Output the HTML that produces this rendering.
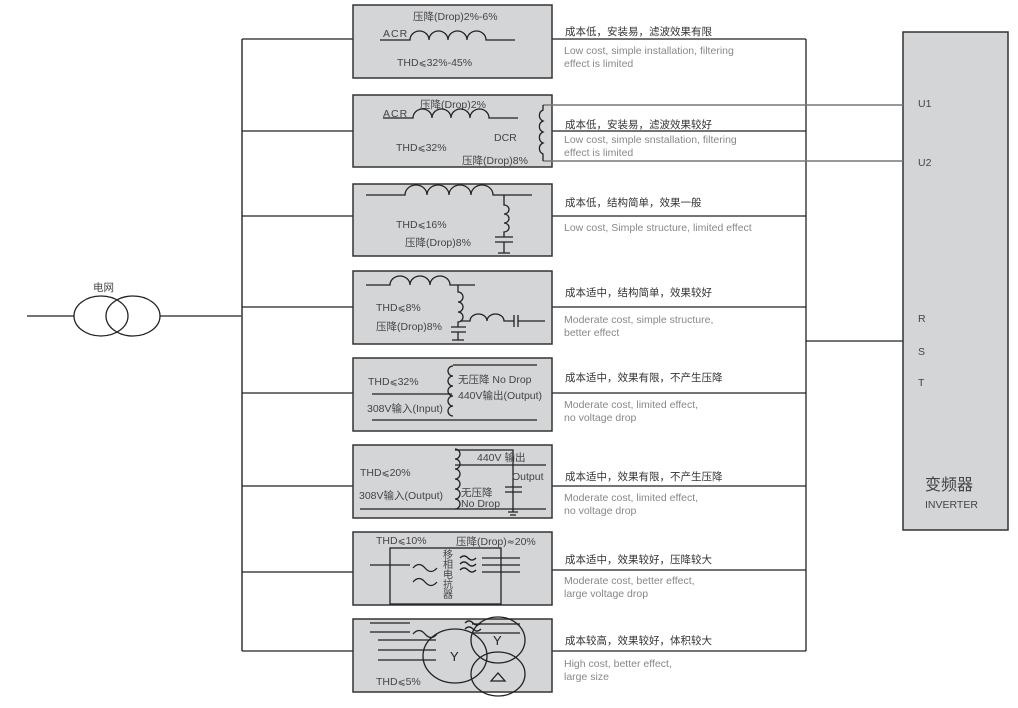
<!DOCTYPE html>
<html><head><meta charset="utf-8"><style>
html,body{margin:0;padding:0;background:#fff;}
svg{display:block;font-family:"Liberation Sans","Noto Sans CJK SC",sans-serif;}
.b{fill:#d4d5d7;stroke:#333;stroke-width:1.5}
.l{stroke:#222;stroke-width:1.3;fill:none}
.g{stroke:#777;stroke-width:1.5;fill:none}
.t{font-size:10.5px;fill:#444}
.c{font-size:10.5px;fill:#333}
.e{font-size:10.5px;fill:#888}
.d{font-family:"DejaVu Sans",sans-serif;font-size:9.5px}
</style></head><body>
<svg width="1018" height="708" viewBox="0 0 1018 708" xmlns="http://www.w3.org/2000/svg">
<line class="l" x1="27" y1="316" x2="74" y2="316"/>
<ellipse class="l" cx="101" cy="316" rx="27" ry="20"/>
<ellipse class="l" cx="133" cy="316" rx="27" ry="20"/>
<line class="l" x1="160" y1="316" x2="242" y2="316"/>
<text class="t" x="93" y="291">电网</text>
<line x1="242" y1="39" x2="242" y2="651" stroke="#555" stroke-width="1.8"/>
<g class="l">
<line x1="242" y1="39" x2="353" y2="39"/><line x1="242" y1="131" x2="353" y2="131"/>
<line x1="242" y1="216" x2="353" y2="216"/><line x1="242" y1="307" x2="353" y2="307"/>
<line x1="242" y1="393" x2="353" y2="393"/><line x1="242" y1="486" x2="353" y2="486"/>
<line x1="242" y1="572" x2="353" y2="572"/><line x1="242" y1="651" x2="353" y2="651"/>
<line x1="552" y1="39" x2="806" y2="39"/><line x1="552" y1="131" x2="806" y2="131"/>
<line x1="552" y1="216" x2="806" y2="216"/><line x1="552" y1="307" x2="806" y2="307"/>
<line x1="552" y1="393" x2="806" y2="393"/><line x1="552" y1="486" x2="806" y2="486"/>
<line x1="552" y1="570" x2="806" y2="570"/><line x1="552" y1="651" x2="806" y2="651"/>
<line x1="806" y1="39" x2="806" y2="651"/>
<line x1="806" y1="341" x2="903" y2="341"/>
</g>
<rect class="b" x="353" y="5" width="199" height="73"/>
<rect class="b" x="353" y="95" width="199" height="72"/>
<rect class="b" x="353" y="184" width="199" height="72"/>
<rect class="b" x="353" y="271" width="199" height="73"/>
<rect class="b" x="353" y="358" width="199" height="73"/>
<rect class="b" x="353" y="445" width="199" height="73"/>
<rect class="b" x="353" y="532" width="199" height="73"/>
<rect class="b" x="353" y="619" width="199" height="73"/>
<rect class="b" x="903" y="32" width="105" height="498"/>
<line class="g" x1="543" y1="105" x2="903" y2="105"/>
<line class="g" x1="543" y1="161" x2="903" y2="161"/>
<text class="t" x="918" y="107">U1</text>
<text class="t" x="918" y="166">U2</text>
<text class="t" x="918" y="322">R</text>
<text class="t" x="918" y="355">S</text>
<text class="t" x="918" y="386">T</text>
<text x="925" y="490" style="font-size:16px;fill:#444">变频器</text>
<text x="925" y="508" style="font-size:10.5px;fill:#444">INVERTER</text>

<text class="t" x="413" y="20">压降(Drop)2%-6%</text>
<text class="t" x="383" y="37" style="letter-spacing:1px">ACR</text>
<path class="l" d="M380 40 H410 a9.5 9 0 0 1 19 0 a9.5 9 0 0 1 19 0 a9.5 9 0 0 1 19 0 a9.5 9 0 0 1 19 0 H515"/>
<text class="t" x="397" y="66">THD<tspan class="d">⩽</tspan>32%-45%</text>
<text class="t" x="420" y="108">压降(Drop)2%</text>
<text class="t" x="383" y="117" style="letter-spacing:1px">ACR</text>
<path class="l" d="M383 118 H413 a9.5 9 0 0 1 19 0 a9.5 9 0 0 1 19 0 a9.5 9 0 0 1 19 0 a9.5 9 0 0 1 19 0 H518"/>
<text class="t" x="494" y="141">DCR</text>
<text class="t" x="396" y="151">THD<tspan class="d">⩽</tspan>32%</text>
<text class="t" x="462" y="164">压降(Drop)8%</text>
<path class="l" d="M543 105 V110 a6 6 0 0 0 0 11 a6 6 0 0 0 0 11 a6 6 0 0 0 0 11 a6 6 0 0 0 0 11 V161"/>
<path class="l" d="M366 195 H405 a11 10 0 0 1 22 0 a11 10 0 0 1 22 0 a11 10 0 0 1 22 0 a11 10 0 0 1 22 0 H532"/>
<path class="l" d="M504 195 V205 a5 4.5 0 0 1 0 9 a5 4.5 0 0 1 0 9 a5 4.5 0 0 1 0 9 V237 M495 237 H513 M495 242 H513 M504 242 V253 M498 253 H510"/>
<text class="t" x="396" y="228">THD<tspan class="d">⩽</tspan>16%</text>
<text class="t" x="405" y="246">压降(Drop)8%</text>
<path class="l" d="M366 285 H390 a10 9 0 0 1 20 0 a10 9 0 0 1 20 0 a10 9 0 0 1 20 0 H475"/>
<path class="l" d="M458 285 V292 a5 5 0 0 1 0 10 a5 5 0 0 1 0 10 a5 5 0 0 1 0 10 V327 M451 327 H466 M451 332 H466 M458 332 V340 M452 340 H464"/>
<path class="l" d="M460 321 H470 a8.5 7 0 0 1 17 0 a8.5 7 0 0 1 17 0 H514 M514 315 V327 M518 315 V327 M518 321 H545"/>
<text class="t" x="376" y="311">THD<tspan class="d">⩽</tspan>8%</text>
<text class="t" x="376" y="330">压降(Drop)8%</text>
<path class="l" d="M453 365 H537 M372 394 H452 M372 420 H537"/>
<path class="l" d="M453 366 a5 5 0 0 0 0 10 a5 5 0 0 0 0 10 a5 5 0 0 0 0 10 a5 5 0 0 0 0 10 a5 5 0 0 0 0 10"/>
<text class="t" x="368" y="385">THD<tspan class="d">⩽</tspan>32%</text>
<text class="t" x="367" y="412">308V输入(Input)</text>
<text class="t" x="458" y="383">无压降 No Drop</text>
<text class="t" x="458" y="399">440V输出(Output)</text>
<path class="l" d="M455 450 H513 V512 M455 465 H546 M360 509 H546 M505 487 H522 M505 492 H522 M508 512 H518 M510 515 H516"/>
<path class="l" d="M455 449 a5 5 0 0 1 0 10 a5 5 0 0 1 0 10 a5 5 0 0 1 0 10 a5 5 0 0 1 0 10 a5 5 0 0 1 0 10 a5 5 0 0 1 0 10"/>
<text class="t" x="477" y="461">440V 输出</text>
<text class="t" x="512" y="480">Output</text>
<text class="t" x="360" y="476">THD<tspan class="d">⩽</tspan>20%</text>
<text class="t" x="359" y="499">308V输入(Output)</text>
<text class="t" x="461" y="496">无压降</text>
<text class="t" x="461" y="507">No Drop</text>
<text class="t" x="376" y="544">THD<tspan class="d">⩽</tspan>10%</text>
<text class="t" x="456" y="545">压降(Drop)<tspan class="d">≈</tspan>20%</text>
<rect class="l" x="390" y="548" width="111" height="56"/>
<path class="l" d="M370 565 H410 M482 558 H520 M482 565 H520 M482 572 H520"/>
<path class="l" d="M413 568 q6 -7 12 0 t12 0 M413 582 q6 -7 12 0 t12 0 M460 558 q4 -4 8 0 t8 0 M460 564 q4 -4 8 0 t8 0 M460 570 q4 -4 8 0 t8 0"/>
<g style="font-size:10px;fill:#444"><text x="443" y="558">移</text><text x="443" y="568">相</text><text x="443" y="578">电</text><text x="443" y="588">抗</text><text x="443" y="598">器</text></g>
<path class="l" d="M370 623 H410 M370 632 H410 M378 640 H436 M378 650 H436 M378 660 H436 M472 624 H520 M472 633 H520"/>
<path class="l" d="M413 634 q6 -7 12 0 t12 0 M465 623 q4 -4 8 0 t8 0 M465 629 q4 -4 8 0 t8 0"/>
<ellipse class="l" cx="455" cy="656" rx="32" ry="27"/>
<ellipse class="l" cx="498" cy="640" rx="27" ry="23"/>
<ellipse class="l" cx="498" cy="674" rx="27" ry="22"/>
<text x="450" y="661" style="font-size:13px;fill:#222">Y</text>
<text x="493" y="645" style="font-size:13px;fill:#222">Y</text>
<path class="l" d="M491 681 L498 673 L505 681 Z"/>
<text class="t" x="376" y="685">THD<tspan class="d">⩽</tspan>5%</text>
<text class="c" x="565" y="35">成本低，安装易，滤波效果有限</text>
<text class="e" x="564" y="54">Low cost, simple installation, filtering</text>
<text class="e" x="564" y="67">effect is limited</text>
<text class="c" x="565" y="128">成本低，安装易，滤波效果较好</text>
<text class="e" x="564" y="143">Low cost, simple snstallation, filtering</text>
<text class="e" x="564" y="156">effect is limited</text>
<text class="c" x="565" y="206">成本低，结构简单，效果一般</text>
<text class="e" x="564" y="231">Low cost, Simple structure, limited effect</text>
<text class="c" x="565" y="296">成本适中，结构简单，效果较好</text>
<text class="e" x="564" y="323">Moderate cost, simple structure,</text>
<text class="e" x="564" y="336">better effect</text>
<text class="c" x="565" y="381">成本适中，效果有限，不产生压降</text>
<text class="e" x="564" y="408">Moderate cost, limited effect,</text>
<text class="e" x="564" y="421">no voltage drop</text>
<text class="c" x="565" y="480">成本适中，效果有限，不产生压降</text>
<text class="e" x="564" y="501">Moderate cost, limited effect,</text>
<text class="e" x="564" y="514">no voltage drop</text>
<text class="c" x="565" y="563">成本适中，效果较好，压降较大</text>
<text class="e" x="564" y="584">Moderate cost, better effect,</text>
<text class="e" x="564" y="597">large voltage drop</text>
<text class="c" x="565" y="644">成本较高，效果较好，体积较大</text>
<text class="e" x="564" y="667">High cost, better effect,</text>
<text class="e" x="564" y="680">large size</text>
</svg>
</body></html>
